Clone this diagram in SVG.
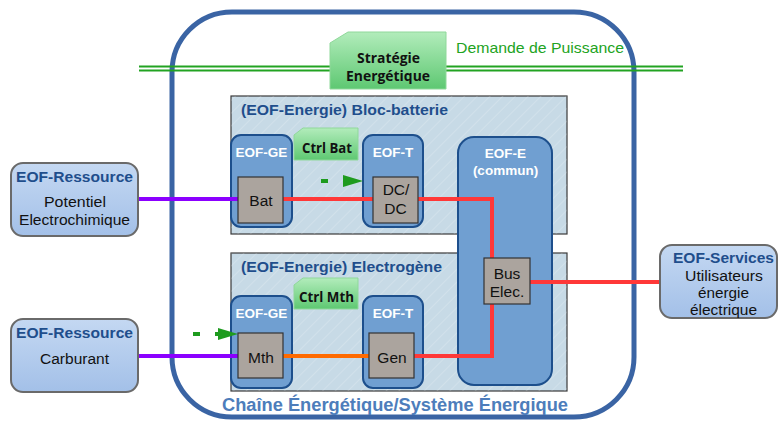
<svg xmlns="http://www.w3.org/2000/svg" width="779" height="421" viewBox="0 0 779 421">
<defs>
<pattern id="hatch" patternUnits="userSpaceOnUse" width="9" height="9" patternTransform="rotate(45)">
<line x1="0" y1="0" x2="0" y2="9" stroke="#ffffff" stroke-width="0.8" stroke-opacity="0.45"/>
</pattern>
<linearGradient id="gres" x1="0" y1="0" x2="0" y2="1">
<stop offset="0" stop-color="#c4d8f2"/>
<stop offset="1" stop-color="#a3c0e8"/>
</linearGradient>
<linearGradient id="ggreen" x1="0" y1="0" x2="0" y2="1">
<stop offset="0" stop-color="#b2ecbb"/>
<stop offset="1" stop-color="#5ec872"/>
</linearGradient>
<style>
.panel{fill:#c7dae6;stroke:#3a3a3a;stroke-width:1.2}
.eof{fill:#709fd1;stroke:#1d4f8c;stroke-width:2}
.comp{fill:#aba49e;stroke:#333;stroke-width:1.2}
.res{fill:url(#gres);stroke:#6a6a6a;stroke-width:2}
.ctrl{fill:url(#ggreen);stroke:#8fd89a;stroke-width:1}
.t{font-family:"Liberation Sans",Arial,sans-serif}
.eoft{font-family:"Liberation Sans",Arial,sans-serif;font-weight:bold;fill:#ffffff;font-size:13.5px;text-anchor:middle}
.title{font-family:"Liberation Sans",Arial,sans-serif;font-weight:bold;fill:#1f4e8c;font-size:15px}
.rt{font-family:"Liberation Sans",Arial,sans-serif;font-weight:bold;fill:#1f4e8c;font-size:15.5px;text-anchor:middle}
.bt{font-family:"Liberation Sans",Arial,sans-serif;fill:#111;font-size:15.5px;text-anchor:middle}
.ct{font-family:"Open Sans","Noto Sans",sans-serif;font-weight:bold;fill:#111;font-size:14px;text-anchor:middle}
.wire{fill:none;stroke-width:4}
.dash{stroke:#1e9b1e;stroke-width:4;stroke-dasharray:7 15;fill:none}
</style>
</defs>

<g id="chaine">
<rect x="172" y="12" width="462" height="405" rx="60" fill="none" stroke="#3a64a4" stroke-width="5"/>
<text x="395" y="411" class="t" font-weight="bold" font-size="17.5" fill="#4d7dbb" text-anchor="middle" textLength="346" lengthAdjust="spacingAndGlyphs">Chaîne Énergétique/Système Énergique</text>
</g>

<g id="demande">
<line x1="139" y1="66.5" x2="683" y2="66.5" stroke="#22a322" stroke-width="1.8"/>
<line x1="139" y1="70.5" x2="683" y2="70.5" stroke="#22a322" stroke-width="1.8"/>
<text x="456" y="53" class="t" font-size="15" fill="#22a322" textLength="168" lengthAdjust="spacingAndGlyphs">Demande de Puissance</text>
</g>

<g id="strategie">
<path d="M330,43 L348,32 L446,32 L446,89 L330,89 Z" class="ctrl"/>
<text x="388.5" y="63" class="ct" textLength="63" lengthAdjust="spacingAndGlyphs">Stratégie</text>
<text x="388" y="81" class="ct" textLength="84" lengthAdjust="spacingAndGlyphs">Energétique</text>
</g>

<g id="bloc-batterie">
<rect x="231" y="96" width="336" height="138" class="panel"/>
<rect x="231" y="96" width="336" height="138" fill="url(#hatch)"/>
<text x="241" y="115" class="title" textLength="207" lengthAdjust="spacingAndGlyphs">(EOF-Energie) Bloc-batterie</text>
</g>

<g id="electrogene">
<rect x="231" y="253" width="336" height="138" class="panel"/>
<rect x="231" y="253" width="336" height="138" fill="url(#hatch)"/>
<text x="241" y="272" class="title" textLength="201" lengthAdjust="spacingAndGlyphs">(EOF-Energie) Electrogène</text>
</g>

<g id="eof-e">
<rect x="458" y="137" width="94" height="248" rx="16" class="eof"/>
<text x="505.5" y="158" class="eoft" font-size="14">EOF-E</text>
<text x="505.5" y="175" class="eoft" font-size="14">(commun)</text>
</g>

<g id="eof-ge-bat">
<rect x="231" y="135" width="61" height="92" rx="10" class="eof"/>
<text x="261.5" y="157" class="eoft">EOF-GE</text>
</g>
<g id="eof-t-bat">
<rect x="363" y="135" width="60" height="92" rx="10" class="eof"/>
<text x="393" y="157" class="eoft">EOF-T</text>
</g>
<g id="eof-ge-mth">
<rect x="231" y="296" width="61" height="92" rx="10" class="eof"/>
<text x="261.5" y="318" class="eoft">EOF-GE</text>
</g>
<g id="eof-t-gen">
<rect x="363" y="296" width="60" height="92" rx="10" class="eof"/>
<text x="393" y="318" class="eoft">EOF-T</text>
</g>

<g id="ctrl-bat">
<path d="M294,135 L303,128 L358,128 L358,160 L294,160 Z" class="ctrl"/>
<text x="327" y="153" class="ct" textLength="50" lengthAdjust="spacingAndGlyphs">Ctrl Bat</text>
</g>
<g id="ctrl-mth">
<path d="M294,285 L303,278 L358,278 L358,309 L294,309 Z" class="ctrl"/>
<text x="326.5" y="302" class="ct" textLength="55" lengthAdjust="spacingAndGlyphs">Ctrl Mth</text>
</g>

<g id="connectors">
<polyline points="138,199 238,199" class="wire" stroke="#8b00ff"/>
<polyline points="138,356 238,356" class="wire" stroke="#8b00ff"/>
<polyline points="283,199 373,199" class="wire" stroke="#ff3838"/>
<polyline points="283,356 369,356" class="wire" stroke="#ff6a00"/>
<polyline points="418,199 492,199 492,258" class="wire" stroke="#ff3838"/>
<polyline points="414,356 492,356 492,304" class="wire" stroke="#ff3838"/>
<polyline points="530,282 660,282" class="wire" stroke="#ff3838"/>
<line x1="321" y1="181" x2="350" y2="181" class="dash"/>
<polygon points="343,175 363,181 343,187" fill="#1e9b1e"/>
<line x1="193" y1="334" x2="224" y2="334" class="dash"/>
<polygon points="218,328 238,334 218,340" fill="#1e9b1e"/>
</g>

<g id="bat">
<rect x="238" y="177" width="45" height="46" class="comp"/>
<text x="261" y="206" class="bt" font-size="16">Bat</text>
</g>
<g id="dcdc">
<rect x="373" y="177" width="45" height="46" class="comp"/>
<text x="396" y="195" class="bt" font-size="16">DC/</text>
<text x="395.5" y="214" class="bt" font-size="16">DC</text>
</g>
<g id="mth">
<rect x="238" y="333" width="45" height="45" class="comp"/>
<text x="261" y="362.5" class="bt" font-size="18">Mth</text>
</g>
<g id="gen">
<rect x="369" y="333" width="45" height="45" class="comp"/>
<text x="392" y="362.5" class="bt" font-size="18">Gen</text>
</g>
<g id="bus">
<rect x="484" y="258" width="46" height="46" class="comp"/>
<text x="507" y="279" class="bt" font-size="16">Bus</text>
<text x="507" y="297" class="bt" font-size="16">Elec.</text>
</g>

<g id="ressource-bat">
<rect x="11" y="163" width="127" height="73" rx="12" class="res"/>
<text x="74.5" y="182" class="rt" textLength="117" lengthAdjust="spacingAndGlyphs">EOF-Ressource</text>
<text x="75" y="207" class="bt" textLength="62" lengthAdjust="spacingAndGlyphs">Potentiel</text>
<text x="74.5" y="225" class="bt" textLength="111" lengthAdjust="spacingAndGlyphs">Electrochimique</text>
</g>
<g id="ressource-carb">
<rect x="11" y="319" width="127" height="73" rx="12" class="res"/>
<text x="74.5" y="338" class="rt" textLength="117" lengthAdjust="spacingAndGlyphs">EOF-Ressource</text>
<text x="74.5" y="364" class="bt" textLength="69" lengthAdjust="spacingAndGlyphs">Carburant</text>
</g>
<g id="services">
<rect x="660" y="245" width="117" height="73" rx="12" class="res"/>
<text x="723.5" y="263" class="rt" textLength="101" lengthAdjust="spacingAndGlyphs">EOF-Services</text>
<text x="724" y="281" class="bt" textLength="78" lengthAdjust="spacingAndGlyphs">Utilisateurs</text>
<text x="723.5" y="298" class="bt" textLength="51" lengthAdjust="spacingAndGlyphs">énergie</text>
<text x="723.5" y="315" class="bt" textLength="67" lengthAdjust="spacingAndGlyphs">électrique</text>
</g>
</svg>
